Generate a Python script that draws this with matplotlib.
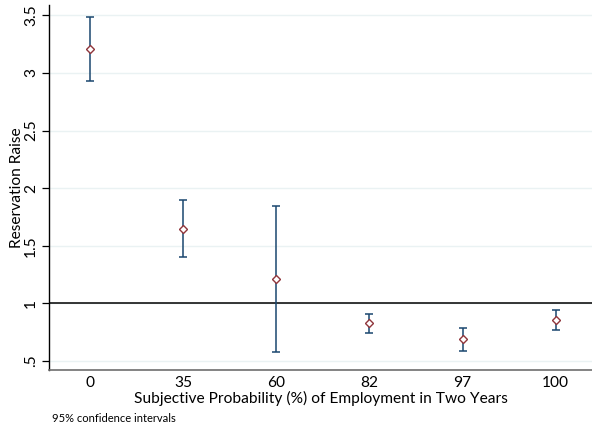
import numpy as np
import matplotlib
matplotlib.use("Agg")
import matplotlib.pyplot as plt

plt.rcParams['font.family'] = ['Lato', 'DejaVu Sans']

# data
categories = ["0", "35", "60", "82", "97", "100"]
estimate = [3.21, 1.645, 1.21, 0.827, 0.688, 0.855]
ci_low = [2.93, 1.40, 0.572, 0.74, 0.589, 0.766]
ci_high = [3.49, 1.896, 1.843, 0.907, 0.789, 0.942]
yticks = [0.5, 1, 1.5, 2, 2.5, 3, 3.5]
ytick_labels = [".5", "1", "1.5", "2", "2.5", "3", "3.5"]

navy = "#1a476f"
maroon = "#90353b"
grid = "#eaf2f3"

fig = plt.figure(figsize=(5.92, 4.30), dpi=100)
ax = fig.add_axes([49 / 592, 60 / 430, 543 / 592, 365 / 430])

x = np.arange(len(categories))
est = np.array(estimate)
lo = np.array(ci_low)
hi = np.array(ci_high)

for yv in yticks:
    ax.axhline(yv, color=grid, lw=1.0, zorder=0)
ax.axhline(1, color="black", lw=1.1, zorder=1)

ax.errorbar(x, est, yerr=[est - lo, hi - est], fmt="none", ecolor=navy,
            elinewidth=1.1, capsize=3, capthick=1.1, zorder=2)
ax.plot(x, est, linestyle="none", marker="D", markersize=4,
        markerfacecolor="white", markeredgecolor=maroon, markeredgewidth=1.0, zorder=3)

ax.set_xlim(-0.44, 5.39)
ax.set_ylim(0.42, 3.59)
ax.set_xticks(x)
ax.set_xticklabels(categories, fontsize=11.2)
ax.set_yticks(yticks)
ax.set_yticklabels(ytick_labels, fontsize=11.2, rotation=90, va="center")
ax.tick_params(axis="x", length=0, pad=4)
ax.tick_params(axis="y", length=5, width=0.9, pad=3)

for side in ["top", "right"]:
    ax.spines[side].set_visible(False)
ax.spines["left"].set_color("black")
ax.spines["left"].set_linewidth(1.0)
ax.spines["bottom"].set_color("#6e6e6e")
ax.spines["bottom"].set_linewidth(1.2)

ax.set_xlabel("Subjective Probability (%) of Employment in Two Years", fontsize=11.2, labelpad=1)
ax.set_ylabel("Reservation Raise", fontsize=11.2, labelpad=0)

fig.text(52 / 592, 1 - 418 / 430, "95% confidence intervals", fontsize=8, va="center")

fig.savefig("out.png", dpi=100, facecolor="white")
